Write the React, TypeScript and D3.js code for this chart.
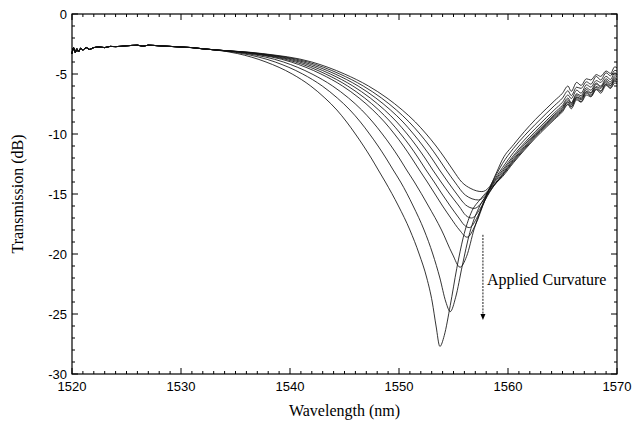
import React from "react";
import * as d3 from "d3";

const W = 634;
const H = 431;
const FRAME = { left: 72, right: 617, top: 14, bottom: 374 };

const xTicks = [1520, 1530, 1540, 1550, 1560, 1570];
const yTicks = [0, -5, -10, -15, -20, -25, -30];

// shared, noisy start of all spectra
const startWl = [1520.0, 1520.15, 1520.3, 1520.45, 1520.6, 1520.8, 1521.0, 1521.3, 1521.6, 1522, 1522.5, 1523, 1523.5, 1524, 1525, 1526, 1526.5, 1527, 1528, 1529, 1530, 1531, 1532, 1533];
const startDb = [-3.3, -2.8, -3.2, -2.9, -3.15, -2.85, -3.0, -2.8, -2.95, -2.8, -2.75, -2.8, -2.7, -2.72, -2.65, -2.6, -2.68, -2.6, -2.65, -2.7, -2.75, -2.8, -2.9, -2.98];

// transmission levels on the falling (left) side, and the wavelength each curve reaches them
const leftLevels = [-3.3, -4, -5, -6, -7, -8, -9, -10, -11, -12, -13, -14];
const c1Lev = [1537.5, 1542.0, 1545.0, 1547.2, 1548.9, 1550.3, 1551.5, 1552.5, 1553.4, 1554.2, 1554.95, 1555.75];
const c2Lev = [1537.29, 1541.62, 1544.57, 1546.72, 1548.39, 1549.76, 1550.93, 1551.92, 1552.8, 1553.59, 1554.33, 1555.12];
const c3Lev = [1537.09, 1541.24, 1544.14, 1546.25, 1547.87, 1549.22, 1550.37, 1551.33, 1552.2, 1552.99, 1553.72, 1554.49];
const c4Lev = [1536.88, 1540.87, 1543.7, 1545.77, 1547.36, 1548.68, 1549.8, 1550.75, 1551.6, 1552.38, 1553.1, 1553.86];
const c5Lev = [1536.67, 1540.49, 1543.27, 1545.29, 1546.85, 1548.14, 1549.23, 1550.16, 1551.01, 1551.77, 1552.48, 1553.23];
const c6Lev = [1536.47, 1540.11, 1542.84, 1544.82, 1546.34, 1547.6, 1548.67, 1549.58, 1550.41, 1551.16, 1551.87, 1552.6];
const c7Lev = [1536.07, 1539.4, 1542.02, 1543.91, 1545.37, 1546.58, 1547.59, 1548.47, 1549.28, 1550.02, 1550.7, 1551.41];
const c8Lev = [1535.66, 1538.64, 1541.16, 1542.96, 1544.34, 1545.5, 1546.46, 1547.3, 1548.08, 1548.8, 1549.47, 1550.15];
const c9Lev = [1535.2, 1537.8, 1540.2, 1541.9, 1543.2, 1544.3, 1545.2, 1546.0, 1546.75, 1547.45, 1548.1, 1548.75];

// bottom of each dip and rising (right) side [wavelength, dB]
const c1Low: [number, number][] = [[1556.6, -14.55], [1557.6, -14.8], [1558.3, -14.4], [1559.0, -13.1], [1559.5, -12.1], [1560.5, -10.9], [1561.5, -9.8], [1562.5, -8.8], [1563.5, -7.9], [1564.3, -7.2]];
const c2Low: [number, number][] = [[1556.1, -15.1], [1557.3, -15.5], [1558.0, -15.0], [1558.8, -13.6], [1559.5, -12.45], [1560.5, -11.2], [1561.5, -10.15], [1562.5, -9.2], [1563.5, -8.3], [1564.3, -7.6]];
const c3Low: [number, number][] = [[1555.3, -15.0], [1556.1, -15.9], [1556.9, -16.2], [1557.6, -15.7], [1558.5, -14.2], [1559.5, -12.8], [1560.5, -11.55], [1561.5, -10.5], [1562.5, -9.55], [1563.5, -8.65], [1564.3, -7.95]];
const c4Low: [number, number][] = [[1554.65, -15.0], [1555.5, -16.0], [1556.15, -16.8], [1556.65, -17.0], [1557.4, -16.3], [1558.3, -14.6], [1559.5, -13.0], [1560.5, -11.8], [1561.5, -10.75], [1562.5, -9.8], [1563.5, -8.9], [1564.3, -8.2]];
const c5Low: [number, number][] = [[1553.95, -15.0], [1554.7, -16.0], [1555.5, -17.0], [1556.0, -17.6], [1556.45, -17.8], [1557.2, -16.9], [1558.1, -15.0], [1559.5, -13.15], [1560.5, -11.95], [1561.5, -10.9], [1562.5, -9.95], [1563.5, -9.05], [1564.3, -8.35]];
const c6Low: [number, number][] = [[1553.3, -15.0], [1554.0, -16.0], [1554.75, -17.0], [1555.55, -18.0], [1556.25, -18.6], [1557.0, -17.6], [1557.9, -15.5], [1559.5, -13.3], [1560.5, -12.1], [1561.5, -11.05], [1562.5, -10.05], [1563.5, -9.15], [1564.3, -8.45]];
const c7Low: [number, number][] = [[1552.7, -16.0], [1553.9, -18.0], [1554.9, -20.0], [1555.6, -21.1], [1556.2, -20.2], [1556.9, -17.9], [1557.7, -15.9], [1558.5, -14.6], [1559.5, -13.4], [1560.5, -12.2], [1561.5, -11.15], [1562.5, -10.15], [1563.5, -9.25], [1564.3, -8.55]];
const c8Low: [number, number][] = [[1551.3, -16.0], [1552.3, -18.0], [1553.1, -20.0], [1553.75, -22.0], [1554.3, -24.0], [1554.7, -24.8], [1555.2, -23.6], [1555.8, -21.0], [1556.5, -18.2], [1557.3, -16.2], [1558.3, -14.8], [1559.5, -13.45], [1560.5, -12.3], [1561.5, -11.25], [1562.5, -10.25], [1563.5, -9.35], [1564.3, -8.65]];
const c9Low: [number, number][] = [[1549.95, -16.0], [1551.0, -18.0], [1551.85, -20.0], [1552.55, -22.0], [1553.05, -24.0], [1553.4, -26.0], [1553.75, -27.7], [1554.15, -26.8], [1554.7, -24.3], [1555.3, -21.2], [1555.9, -18.6], [1556.6, -16.6], [1557.5, -15.4], [1558.4, -14.5], [1559.5, -13.55], [1560.5, -12.4], [1561.5, -11.35], [1562.5, -10.35], [1563.5, -9.45], [1564.3, -8.75]];

// noisy tail
const tailWl = [1565.0, 1565.5, 1565.8, 1566.3, 1566.7, 1567.2, 1567.6, 1568.1, 1568.5, 1569.0, 1569.4, 1569.8, 1570];
const c1Tail = [-6.6, -6.0, -6.45, -5.7, -5.95, -5.4, -5.5, -5.05, -5.2, -4.75, -4.95, -4.4, -4.5];
const c2Tail = [-7.0, -6.4, -6.8, -6.1, -6.2, -5.65, -5.85, -5.2, -5.5, -4.9, -5.15, -4.7, -4.75];
const c3Tail = [-7.35, -6.75, -7.05, -6.35, -6.6, -5.9, -6.1, -5.55, -5.7, -5.2, -5.45, -4.9, -5.05];
const c4Tail = [-7.6, -7.0, -7.4, -6.65, -6.8, -6.15, -6.35, -5.75, -6.0, -5.4, -5.65, -5.15, -5.2];
const c5Tail = [-7.75, -7.15, -7.45, -6.75, -6.95, -6.3, -6.55, -5.85, -6.1, -5.55, -5.8, -5.3, -5.45];
const c6Tail = [-7.85, -7.3, -7.55, -6.9, -7.05, -6.45, -6.6, -6.05, -6.2, -5.65, -5.95, -5.4, -5.5];
const c7Tail = [-7.95, -7.35, -7.7, -6.95, -7.15, -6.5, -6.75, -6.1, -6.4, -5.8, -6.0, -5.5, -5.65];
const c8Tail = [-8.05, -7.5, -7.75, -7.05, -7.3, -6.6, -6.85, -6.25, -6.45, -5.85, -6.15, -5.6, -5.7];
const c9Tail = [-8.15, -7.55, -7.9, -7.15, -7.35, -6.75, -6.9, -6.3, -6.6, -5.95, -6.2, -5.75, -5.8];

const curveParts: [number[], [number, number][], number[]][] = [
  [c1Lev, c1Low, c1Tail],
  [c2Lev, c2Low, c2Tail],
  [c3Lev, c3Low, c3Tail],
  [c4Lev, c4Low, c4Tail],
  [c5Lev, c5Low, c5Tail],
  [c6Lev, c6Low, c6Tail],
  [c7Lev, c7Low, c7Tail],
  [c8Lev, c8Low, c8Tail],
  [c9Lev, c9Low, c9Tail],
];

const arrowWl = 1557.7;
const arrowFrom = -18.4;
const arrowTo = -25.5;
const annotation = "Applied Curvature";

export default function App() {
  const x = d3.scaleLinear().domain([1520, 1570]).range([FRAME.left, FRAME.right]);
  const y = d3.scaleLinear().domain([0, -30]).range([FRAME.top, FRAME.bottom]);

  const line = d3
    .line<[number, number]>()
    .x((d) => x(d[0]))
    .y((d) => y(d[1]))
    .curve(d3.curveMonotoneX);

  const series = curveParts.map(([lev, low, tail]) => {
    const pts: [number, number][] = [];
    startWl.forEach((w, i) => pts.push([w, startDb[i]]));
    lev.forEach((w, i) => pts.push([w, leftLevels[i]]));
    low.forEach((p) => pts.push(p));
    tailWl.forEach((w, i) => pts.push([w, tail[i]]));
    return pts;
  });

  const xMinor = d3.range(1520, 1571, 1);
  const yMinor = d3.range(-30, 1, 1);
  const sans = "'Liberation Sans', Arial, sans-serif";
  const serif = "'Liberation Serif', 'Times New Roman', serif";

  const ax = x(arrowWl);
  const ay1 = y(arrowFrom);
  const ay2 = y(arrowTo);

  return (
    <svg width={W} height={H} style={{ position: "fixed", left: 0, top: 0, background: "#fff" }}>
      <rect x={0} y={0} width={W} height={H} fill="#fff" />
      <g fill="none" stroke="#111" strokeWidth={0.85}>
        {series.map((s, i) => (
          <path key={i} d={line(s) || ""} />
        ))}
      </g>
      <rect
        x={FRAME.left}
        y={FRAME.top}
        width={FRAME.right - FRAME.left}
        height={FRAME.bottom - FRAME.top}
        fill="none"
        stroke="#000"
        strokeWidth={1.2}
      />
      <g stroke="#000" strokeWidth={1}>
        {xMinor.map((v) => {
          const len = v % 10 === 0 ? 6 : 3;
          return (
            <g key={"x" + v}>
              <line x1={x(v)} x2={x(v)} y1={FRAME.bottom} y2={FRAME.bottom - len} />
              <line x1={x(v)} x2={x(v)} y1={FRAME.top} y2={FRAME.top + len} />
            </g>
          );
        })}
        {yMinor.map((v) => {
          const len = v % 5 === 0 ? 6 : 3;
          return (
            <g key={"y" + v}>
              <line x1={FRAME.left} x2={FRAME.left + len} y1={y(v)} y2={y(v)} />
              <line x1={FRAME.right} x2={FRAME.right - len} y1={y(v)} y2={y(v)} />
            </g>
          );
        })}
      </g>
      <g fontFamily={sans} fontSize={13} fill="#000">
        {xTicks.map((v) => (
          <text key={"xl" + v} x={x(v)} y={FRAME.bottom + 17} textAnchor="middle">
            {v}
          </text>
        ))}
        {yTicks.map((v) => (
          <text key={"yl" + v} x={FRAME.left - 5} y={y(v) + 4.5} textAnchor="end">
            {v}
          </text>
        ))}
      </g>
      <text x={(FRAME.left + FRAME.right) / 2} y={416} textAnchor="middle" fontFamily={serif} fontSize={16}>
        Wavelength (nm)
      </text>
      <text
        transform={`translate(23, ${(FRAME.top + FRAME.bottom) / 2}) rotate(-90)`}
        textAnchor="middle"
        fontFamily={serif}
        fontSize={16}
      >
        Transmission (dB)
      </text>
      <line x1={ax} x2={ax} y1={ay1} y2={ay2 - 5} stroke="#000" strokeWidth={0.9} strokeDasharray="2,1.2" />
      <path d={`M${ax - 2.5},${ay2 - 6} L${ax + 2.5},${ay2 - 6} L${ax},${ay2} Z`} fill="#000" />
      <text x={ax + 4} y={y(-22.6)} fontFamily={serif} fontSize={16}>
        {annotation}
      </text>
    </svg>
  );
}
